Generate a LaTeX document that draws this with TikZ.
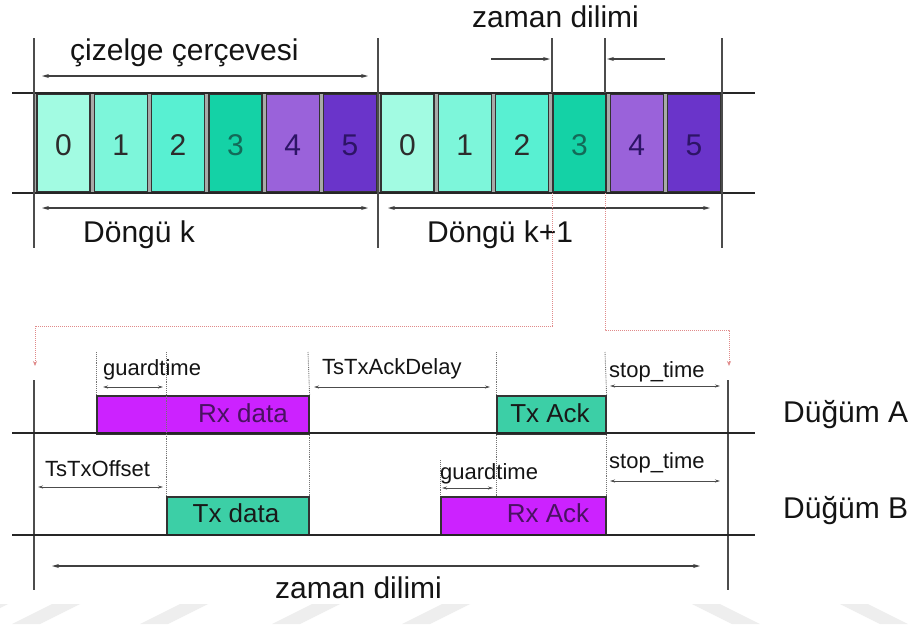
\documentclass[tikz,border=0pt]{standalone}
\usepackage{fontspec}
\setmainfont{Liberation Sans}
\usetikzlibrary{arrows.meta}

\definecolor{slotA}{HTML}{A2FBE2}
\definecolor{slotB}{HTML}{7DF6DA}
\definecolor{slotC}{HTML}{58F0D2}
\definecolor{slotD}{HTML}{14D2A6}
\definecolor{slotE}{HTML}{9A62DA}
\definecolor{slotF}{HTML}{6A34CA}
\definecolor{numdark}{HTML}{2C2C2C}
\definecolor{numteal}{HTML}{136A58}
\definecolor{numviolet}{HTML}{2D1466}
\definecolor{rxfill}{HTML}{CC22FF}
\definecolor{txfill}{HTML}{3CCFA6}
\definecolor{rxtext}{HTML}{4A1262}
\definecolor{gapgray}{HTML}{A8AAA8}
\definecolor{linkred}{HTML}{E08A8A}
\definecolor{markgray}{HTML}{EEEEEE}

\tikzset{
  axisline/.style={line width=2.6pt, draw=black!85},
  tickline/.style={line width=1.3pt, draw=black!70},
  spanarrow/.style={line width=1.3pt, draw=black!75, {Stealth[length=7pt,width=4pt]}-{Stealth[length=7pt,width=4pt]}},
  onearrow/.style={line width=1.2pt, draw=black!75, -{Stealth[length=7pt,width=4pt]}},
  smallarrow/.style={line width=1pt, draw=black!70, {Stealth[length=5pt,width=3pt]}-{Stealth[length=5pt,width=3pt]}},
  guide/.style={densely dotted, line width=0.9pt, draw=black!55},
  link/.style={densely dotted, line width=1pt, draw=linkred, -{Stealth[length=5pt,width=4pt]}},
  slotcell/.style={draw=black!80, line width=1.4pt, minimum width=53pt, minimum height=97pt, inner sep=0pt, anchor=west},
  bigtext/.style={font=\fontsize{30}{34}\selectfont, text=black!92, inner sep=0pt},
  smalltext/.style={font=\fontsize{22}{26}\selectfont, text=black!92, inner sep=0pt, anchor=base west},
  boxtext/.style={font=\fontsize{26}{30}\selectfont, inner sep=0pt, anchor=base},
  slotbox/.style={draw=black!80, line width=1.6pt, anchor=north west, inner sep=0pt},
  wmark/.style={fill=markgray, draw=none},
}

\begin{document}
\begin{tikzpicture}[x=1pt, y=-1pt]
\useasboundingbox (0,0) rectangle (915,624);
\fill[white] (0,0) rectangle (915,624);

% faint stripes along the lower edge
\foreach \a in {12,140,272,402} {
  \fill[wmark] (\a+40,604) -- (\a+68,604) -- (\a+28,624) -- (\a,624) -- cycle;
}
\fill[wmark] (-20,604) -- (8,604) -- (-32,624) -- (-60,624) -- cycle;
\foreach \a in {692,840} {
  \fill[wmark] (\a,604) -- (\a+28,604) -- (\a+68,624) -- (\a+40,624) -- cycle;
}

% ---------------- slot frame ----------------
\coordinate (stripL) at (34,93);
\coordinate (stripR) at (722,193);
\fill[gapgray] (stripL) rectangle (stripR);

\def\slotw{57.333}
\foreach \c in {0,1} {
  \foreach \i/\col/\num in {0/slotA/numdark, 1/slotB/numdark, 2/slotC/numdark, 3/slotD/numteal, 4/slotE/numviolet, 5/slotF/numviolet} {
    \pgfmathsetmacro{\xl}{34 + 344*\c + \slotw*\i + 2.2}
    \node[slotcell, fill=\col] (s\c\i) at (\xl,143) {};
    \node[bigtext, text=\num, anchor=base] (n\c\i) at ([yshift=-12pt]s\c\i.center) {\i};
  }
}

\draw[axisline] (12,93) -- (755,93);
\draw[axisline] (12,193) -- (755,193);

% cycle boundaries
\coordinate (b0t) at (34,38);   \coordinate (b0b) at (34,248);
\coordinate (b1t) at (378,38);  \coordinate (b1b) at (378,248);
\coordinate (b2t) at (722,38);  \coordinate (b2b) at (722,248);
\draw[tickline] (b0t) -- (b0b);
\draw[tickline] (b1t) -- (b1b);
\draw[tickline] (b2t) -- (b2b);

% frame and cycle spans
\coordinate (fa) at (42,76);  \coordinate (fb) at (368,76);
\draw[spanarrow] (fa) -- (fb);
\node[bigtext, anchor=base west] (frame) at (70,60) {çizelge çerçevesi};

\coordinate (ka) at (42,208);  \coordinate (kb) at (368,208);
\draw[spanarrow] (ka) -- (kb);
\node[bigtext, anchor=base west] (cyck) at (83,242) {Döngü k};

\coordinate (k1a) at (388,208);  \coordinate (k1b) at (710,208);
\draw[spanarrow] (k1a) -- (k1b);
\node[bigtext, anchor=base west] (cyck1) at (427,242) {Döngü k+1};

% one time slot
\node[bigtext, anchor=base west] (slotlabel) at (472,27) {zaman dilimi};
\coordinate (ta) at (552,38);  \coordinate (tb) at (605,38);
\coordinate (ta2) at (552,93); \coordinate (tb2) at (605,93);
\draw[tickline] (ta) -- (ta2);
\draw[tickline] (tb) -- (tb2);
\coordinate (tla) at (491,59);  \coordinate (tlb) at (550,59);
\coordinate (tra) at (665,59);  \coordinate (trb) at (607,59);
\draw[onearrow] (tla) -- (tlb);
\draw[onearrow] (tra) -- (trb);

% zoom links down to the timing view
\coordinate (la) at (552,193);
\coordinate (lb) at (605,193);
\coordinate (zl) at (35,366);
\coordinate (zr) at (729,366);
\draw[link] (la) -- (552,326) -- (35,326) -- (zl);
\draw[link] (lb) -- (605,330) -- (729,330) -- (zr);

% ---------------- timing view ----------------
\coordinate (v0t) at (34,380);  \coordinate (v0b) at (34,590);
\coordinate (v1t) at (728,380); \coordinate (v1b) at (728,590);
\draw[tickline] (v0t) -- (v0b);
\draw[tickline] (v1t) -- (v1b);

% transfer boxes
\node[slotbox, fill=rxfill, minimum width=212pt, minimum height=38pt] (rxd) at (96,395) {};
\node[slotbox, fill=txfill, minimum width=109pt, minimum height=38pt] (txa) at (496,395) {};
\node[slotbox, fill=txfill, minimum width=142pt, minimum height=38pt] (txd) at (166,496) {};
\node[slotbox, fill=rxfill, minimum width=165pt, minimum height=38pt] (rxa) at (440,496) {};

\node[boxtext, text=rxtext] (rxdt) at (243,422) {Rx data};
\node[boxtext, text=black!90] (txat) at (550,422) {Tx Ack};
\node[boxtext, text=black!90] (txdt) at (236,522) {Tx data};
\node[boxtext, text=rxtext] (rxat) at (548,522) {Rx Ack};

\draw[axisline] (12,433) -- (755,433);
\draw[axisline] (12,535) -- (755,535);

% alignment guides
\coordinate (g1) at (96,352);
\coordinate (g2) at (166,352);
\coordinate (g3) at (308,352);
\coordinate (g4) at (496,352);
\coordinate (g5) at (605,352);
\coordinate (g6) at (440,460);
\draw[guide] (g1) -- (rxd.north west);
\draw[guide] (g2) -- (txd.north west);
\draw[guide] (g3) -- (rxd.north east);
\draw[guide] (rxd.south east) -- (txd.north east);
\draw[guide] (g4) -- (txa.north west);
\draw[guide] (txa.south west) -- (496,496);
\draw[guide] (g5) -- (txa.north east);
\draw[guide] (txa.south east) -- (rxa.north east);
\draw[guide] (g6) -- (rxa.north west);

% node A intervals
\node[smalltext] (gtA) at (103,375) {guardtime};
\coordinate (gAa) at (103,387); \coordinate (gAb) at (163,387);
\draw[smallarrow] (gAa) -- (gAb);

\node[smalltext] (ackd) at (322,374) {TsTxAckDelay};
\coordinate (dAa) at (314,387); \coordinate (dAb) at (490,387);
\draw[smallarrow] (dAa) -- (dAb);

\node[smalltext] (stA) at (609,377) {stop\_time};
\coordinate (sAa) at (610,386); \coordinate (sAb) at (720,386);
\draw[smallarrow] (sAa) -- (sAb);

% node B intervals
\node[smalltext] (offB) at (45,476) {TsTxOffset};
\coordinate (oBa) at (38,487); \coordinate (oBb) at (163,487);
\draw[smallarrow] (oBa) -- (oBb);

\node[smalltext] (gtB) at (440,479) {guardtime};
\coordinate (gBa) at (442,488); \coordinate (gBb) at (493,488);
\draw[smallarrow] (gBa) -- (gBb);

\node[smalltext] (stB) at (609,468) {stop\_time};
\coordinate (sBa) at (610,481); \coordinate (sBb) at (720,481);
\draw[smallarrow] (sBa) -- (sBb);

% whole slot span
\coordinate (za) at (52,566); \coordinate (zb) at (700,566);
\draw[spanarrow] (za) -- (zb);
\node[bigtext, anchor=base west] (slotspan) at (275,598) {zaman dilimi};

% node names
\node[bigtext, anchor=base west] (nodeA) at (783,422) {Düğüm A};
\node[bigtext, anchor=base west] (nodeB) at (783,518) {Düğüm B};
\end{tikzpicture}
\end{document}
